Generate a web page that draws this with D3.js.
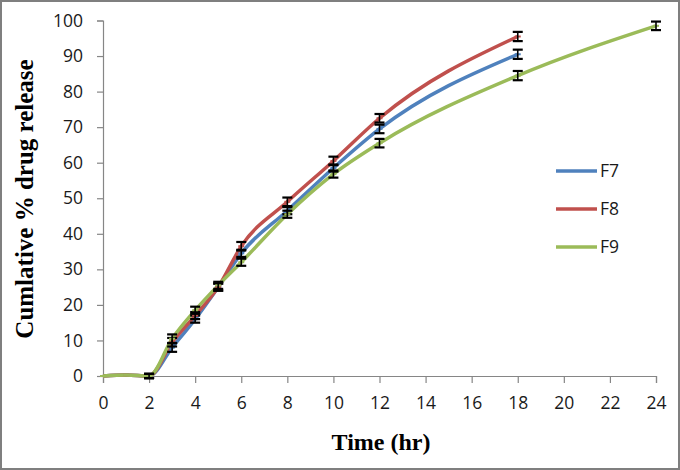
<!DOCTYPE html>
<html><head><meta charset="utf-8">
<script src="https://cdn.jsdelivr.net/npm/d3@7"></script>
<style>body{margin:0;background:#fff}svg{display:block}</style>
</head><body>
<svg id="c" width="680" height="470"></svg>
<script>
const timesA = [0,1,2,3,4,5,6,8,10,12,18];
const timesF9 = [0,1,2,3,4,5,6,8,10,12,18,24];
const seriesNames = ["F7","F8","F9"];
const f7 = [0,0.3,0,8,16,25,34.5,46.5,58.5,69.5,90.5];
const f8 = [0,0.3,0,9.5,17,25,36.5,49,60.5,72.5,95.5];
const f9 = [0,0.3,0,10.5,18.5,25.5,32,45.5,56.8,65.5,84.5,98.5];
const f7err = [0,0,0.6,1.2,1,1,1,1,1,1.2,1.3];
const f8err = [0,0,0.6,1.2,1,1,1.2,1.2,1.2,1.2,1.3];
const f9err = [0,0,0.6,1.2,1,1,1,1,1,1.2,1.3,1.2];
const xTicks = [0,2,4,6,8,10,12,14,16,18,20,22,24];
const yTicks = [0,10,20,30,40,50,60,70,80,90,100];
const colors = ["#4F81BD","#C0504D","#9BBB59"];

const svg = d3.select("#c");
svg.append("rect").attr("x",1).attr("y",1).attr("width",678).attr("height",468)
  .attr("fill","#fff").attr("stroke","#7f7f7f").attr("stroke-width",2);

const x = d3.scaleLinear().domain([0,24]).range([103,656]);
const y = d3.scaleLinear().domain([0,100]).range([376,20.5]);

const axisColor = "#868686";
const gx = svg.append("g").attr("transform","translate(0,376)")
  .call(d3.axisBottom(x).tickValues(xTicks).tickSizeOuter(0).tickSize(7).tickPadding(20));
const gy = svg.append("g").attr("transform","translate(103,0)")
  .call(d3.axisLeft(y).tickValues(yTicks).tickSizeOuter(0).tickSize(6).tickPadding(14));
[gx,gy].forEach(g=>{
  g.selectAll("path,line").attr("stroke",axisColor).attr("stroke-width",1.2);
  g.selectAll("text").attr("fill","#1a1a1a").style("font-family","'Open Sans', 'Liberation Sans', sans-serif").style("font-size","17.5px");
});
gx.selectAll("text").attr("dy","0.35em");

const data = [
  {name:"F7", t:timesA, v:f7, e:f7err, c:colors[0]},
  {name:"F8", t:timesA, v:f8, e:f8err, c:colors[1]},
  {name:"F9", t:timesF9, v:f9, e:f9err, c:colors[2]}
];

const line = d3.line().x(d=>x(d[0])).y(d=>y(d[1])).curve(d3.curveMonotoneX);

data.forEach(s=>{
  const pts = s.t.map((t,i)=>[t,s.v[i]]);
  svg.append("path").datum(pts).attr("d",line).attr("fill","none")
    .attr("stroke",s.c).attr("stroke-width",3.5).attr("stroke-linejoin","round");
});
data.forEach(s=>{
  const g = svg.append("g");
  s.t.forEach((t,i)=>{
    const cx = x(t), e = s.e[i];
    g.append("line").attr("x1",cx-3).attr("x2",cx+3).attr("y1",y(s.v[i])).attr("y2",y(s.v[i]))
      .attr("stroke",s.c).attr("stroke-width",2);
    if(e>0){
      const y1 = y(s.v[i]+e), y2 = y(s.v[i]-e);
      g.append("line").attr("x1",cx).attr("x2",cx).attr("y1",y1).attr("y2",y2).attr("stroke","#000").attr("stroke-width",1.6);
      [y1,y2].forEach(yy=>g.append("line").attr("x1",cx-5).attr("x2",cx+5).attr("y1",yy).attr("y2",yy).attr("stroke","#000").attr("stroke-width",2.2));
    }
  });
});

// legend
const legY = [171,209,247];
data.forEach((s,i)=>{
  svg.append("line").attr("x1",556).attr("x2",597).attr("y1",legY[i]).attr("y2",legY[i])
    .attr("stroke",s.c).attr("stroke-width",3.5);
  svg.append("text").attr("x",600).attr("y",legY[i]).attr("dy","0.36em")
    .style("font-family","'Open Sans', 'Liberation Sans', sans-serif").style("font-size","17.5px")
    .attr("fill","#1a1a1a").text(s.name);
});

// axis titles
svg.append("text").attr("x",381).attr("y",442).attr("dy","0.35em").attr("text-anchor","middle")
  .style("font-family","'Liberation Serif', 'Times New Roman', serif").style("font-weight","bold").style("font-size","24px")
  .attr("fill","#000").text("Time (hr)");
svg.append("text").attr("transform","translate(24,199) rotate(-90)").attr("dy","0.35em").attr("text-anchor","middle")
  .style("font-family","'Liberation Serif', 'Times New Roman', serif").style("font-weight","bold").style("font-size","25px")
  .attr("fill","#000").text("Cumlative % drug release");
</script>
</body></html>
